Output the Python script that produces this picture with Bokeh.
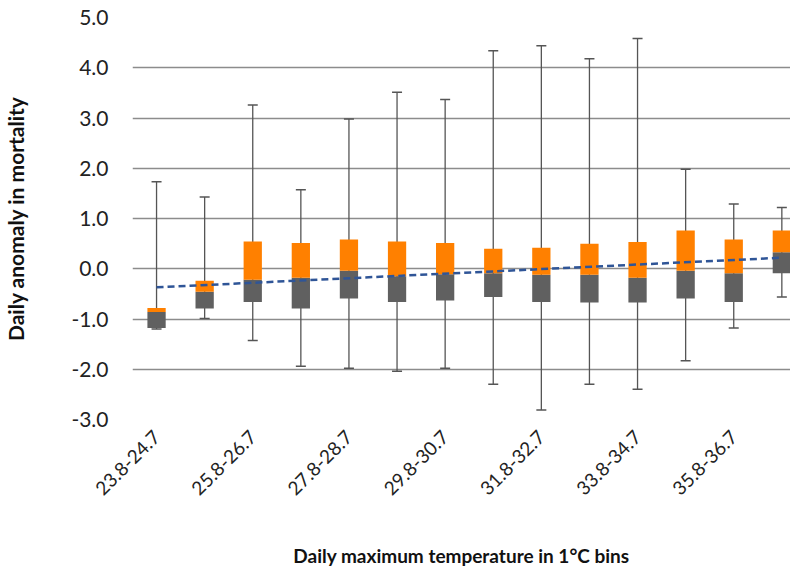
import numpy as np
from bokeh.plotting import figure
from bokeh.models import ColumnDataSource, Range1d, FixedTicker, Whisker, TeeHead, NumeralTickFormatter
from bokeh.embed import file_html
from bokeh.resources import INLINE

bins = ["23.8-24.7", "24.8-25.7", "25.8-26.7", "26.8-27.7", "27.8-28.7", "28.8-29.7",
        "29.8-30.7", "30.8-31.7", "31.8-32.7", "32.8-33.7", "33.8-34.7", "34.8-35.7",
        "35.8-36.7", "36.8-37.7"]
whisker_max = [1.73, 1.43, 3.26, 1.57, 2.98, 3.51, 3.37, 4.34, 4.44, 4.18, 4.58, 1.98, 1.29, 1.22]
whisker_min = [-1.20, -0.99, -1.43, -1.94, -1.98, -2.04, -1.98, -2.30, -2.81, -2.30, -2.40, -1.83, -1.18, -0.56]
q3 = [-0.78, -0.24, 0.54, 0.51, 0.58, 0.54, 0.51, 0.40, 0.42, 0.50, 0.53, 0.76, 0.58, 0.76]
median = [-0.86, -0.46, -0.22, -0.18, -0.04, -0.15, -0.11, -0.09, -0.12, -0.12, -0.18, -0.04, -0.09, 0.33]
q1 = [-1.18, -0.79, -0.66, -0.79, -0.59, -0.66, -0.63, -0.56, -0.66, -0.67, -0.67, -0.59, -0.66, -0.09]
trend_ends = [-0.37, 0.22]
y_ticks = [-3, -2, -1, 0, 1, 2, 3, 4, 5]

FONT = "Lato"
idx = np.arange(len(bins))
src = ColumnDataSource(dict(x=idx, q1=q1, med=median, q3=q3, lo=whisker_min, hi=whisker_max))

p = figure(width=790, height=570, output_backend="svg", toolbar_location=None,
           x_range=Range1d(-0.5, 13.18), y_range=Range1d(-3, 5),
           min_border_left=127, min_border_top=17, min_border_right=0, min_border_bottom=10)
p.outline_line_color = None
p.background_fill_color = "white"
p.border_fill_color = "white"

p.vbar(x="x", width=0.38, bottom="q1", top="med", source=src, fill_color="#606060", line_color=None)
p.vbar(x="x", width=0.38, bottom="med", top="q3", source=src, fill_color="#ff8000", line_color=None)

w = Whisker(base="x", upper="hi", lower="lo", source=src, line_color="#555555", line_width=1.3,
            upper_head=TeeHead(size=10, line_color="#555555", line_width=1.5),
            lower_head=TeeHead(size=10, line_color="#555555", line_width=1.5))
p.add_layout(w)

p.line(x=[idx[0], idx[-1]], y=trend_ends, line_color="#2f5597", line_width=2.5, line_dash="7 4")

p.xgrid.grid_line_color = None
p.ygrid.grid_line_color = "#8c8c8c"
p.ygrid.grid_line_width = 1.5
p.yaxis.ticker = FixedTicker(ticks=y_ticks)
p.yaxis.formatter = NumeralTickFormatter(format="0.0")
p.xaxis.ticker = FixedTicker(ticks=list(idx[::2]))
p.xaxis.major_label_overrides = {int(i): bins[i] for i in idx[::2]}
p.xaxis.major_label_orientation = np.pi / 4

for ax in (p.xaxis[0], p.yaxis[0]):
    ax.axis_line_color = None
    ax.major_tick_line_color = None
    ax.minor_tick_line_color = None
    ax.major_label_text_font = FONT
    ax.major_label_text_color = "#222222"
    ax.axis_label_text_font = FONT
    ax.axis_label_text_font_style = "bold"
    ax.axis_label_text_color = "#111111"

p.yaxis.major_label_text_font_size = "21px"
p.yaxis.major_label_standoff = 18
p.yaxis.axis_label = "Daily anomaly in mortality"
p.yaxis.axis_label_text_font_size = "21px"
p.yaxis.axis_label_standoff = 40

p.xaxis.major_label_text_font_size = "19px"
p.xaxis.major_label_standoff = 8
p.xaxis.axis_label = "Daily maximum temperature in 1\u00b0C bins"
p.xaxis.axis_label_text_font_size = "19px"
p.xaxis.axis_label_standoff = 40

open("out.html", "w").write(file_html(p, INLINE))
